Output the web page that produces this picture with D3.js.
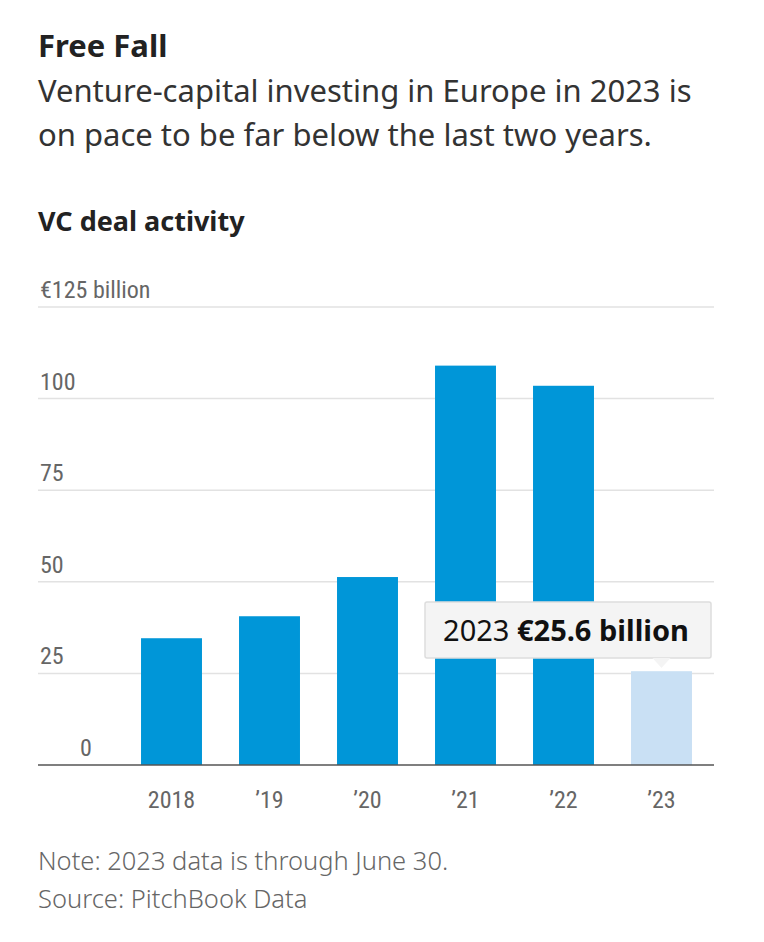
<!DOCTYPE html>
<html><head><meta charset="utf-8">
<script src="https://cdn.jsdelivr.net/npm/d3@7"></script>
<style>
body{margin:0;background:#fff;font-family:"Noto Sans",sans-serif;}
.axisLbl{font-family:"Liberation Sans Narrow","Roboto Condensed","Noto Sans",sans-serif;font-size:24px;fill:#666;}
.foot{font-family:"Noto Sans",sans-serif;font-size:25.5px;fill:#666;font-weight:300;}
</style></head>
<body><div id="chart"></div>
<script>
const years = ["2018", "’19", "’20", "’21", "’22", "’23"];
const values = [34.6, 40.6, 51.3, 109, 103.5, 25.6];
const yTicks = [0, 25, 50, 75, 100, 125];
const tipYear = "2023";
const tipValue = "€25.6 billion";

const W = 764, H = 942;
const svg = d3.select("#chart").append("svg").attr("width", W).attr("height", H);

svg.append("text").attr("x", 38).attr("y", 57).attr("font-size", 31).attr("font-weight", 700)
   .attr("fill", "#222").text("Free Fall");
svg.append("text").attr("x", 38).attr("y", 102).attr("font-size", 31).attr("fill", "#333")
   .text("Venture-capital investing in Europe in 2023 is");
svg.append("text").attr("x", 38).attr("y", 146).attr("font-size", 31).attr("fill", "#333")
   .text("on pace to be far below the last two years.");
svg.append("text").attr("x", 38).attr("y", 231).attr("font-size", 27).attr("font-weight", 700)
   .attr("fill", "#222").text("VC deal activity");

const y = d3.scaleLinear().domain([0, 125]).range([765, 307]);
const x = d3.scaleBand().domain(years).range([122.5, 710.5]).paddingInner(0.378).paddingOuter(0.189);

// grid
svg.selectAll("line.grid").data(yTicks.filter(d => d > 0)).enter().append("line")
   .attr("x1", 38).attr("x2", 714).attr("y1", d => y(d)).attr("y2", d => y(d))
   .attr("stroke", "#e2e2e2").attr("stroke-width", 1.5);

svg.selectAll("text.ytick").data(yTicks).enter().append("text")
   .attr("class", "axisLbl").attr("x", d => d === 0 ? 80 : 40).attr("y", d => y(d) - 9)
   .text(d => d === 125 ? "€125 billion" : d);

// bars
svg.selectAll("rect.bar").data(values).enter().append("rect")
   .attr("x", (d, i) => x(years[i])).attr("width", x.bandwidth())
   .attr("y", d => y(d)).attr("height", d => y(0) - y(d))
   .attr("fill", (d, i) => i === 5 ? "#c9e0f4" : "#0096d8");

// baseline
svg.append("line").attr("x1", 38).attr("x2", 714).attr("y1", 765).attr("y2", 765)
   .attr("stroke", "#555").attr("stroke-width", 1.5);

svg.selectAll("text.xtick").data(years).enter().append("text")
   .attr("class", "axisLbl").attr("x", d => x(d) + x.bandwidth() / 2).attr("y", 808)
   .attr("text-anchor", "middle").text(d => d);

// tooltip
const tx = x(years[5]) + x.bandwidth() / 2;
const tip = svg.append("g");
tip.append("rect").attr("x", 425).attr("y", 602).attr("width", 286).attr("height", 56)
   .attr("fill", "#f4f4f4").attr("stroke", "#ddd").attr("stroke-width", 1.5).attr("rx", 2);
tip.append("path").attr("d", `M${tx - 9},658 L${tx},668 L${tx + 9},658 Z`)
   .attr("fill", "#f4f4f4");
const tt = tip.append("text").attr("x", 566).attr("y", 641).attr("text-anchor", "middle")
   .attr("font-size", 29).attr("fill", "#111");
tt.append("tspan").text(tipYear + " ");
tt.append("tspan").attr("font-weight", 700).text(tipValue);

svg.append("text").attr("class", "foot").attr("x", 38).attr("y", 870)
   .text("Note: 2023 data is through June 30.");
svg.append("text").attr("class", "foot").attr("x", 38).attr("y", 908)
   .text("Source: PitchBook Data");
</script></body></html>
